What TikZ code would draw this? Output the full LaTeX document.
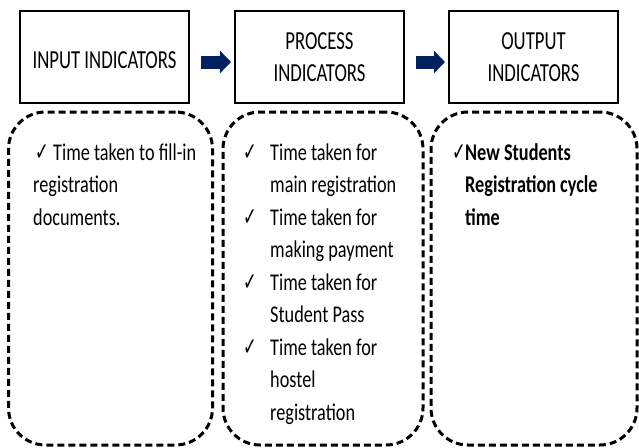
\documentclass[tikz,border=0pt]{standalone}
\usepackage{fontspec}
\setmainfont{Carlito}[FakeStretch=0.76]
\newfontfamily\headfont{Carlito}[FakeStretch=0.72]
\newfontfamily\tickfont{DejaVu Sans}[FakeStretch=0.65]
\usepackage{tikz}
\usetikzlibrary{arrows.meta,positioning}
\definecolor{navy}{RGB}{0,32,96}
\newcommand{\tick}{\makebox[10pt][l]{\tickfont\fontsize{25}{25}\selectfont ✓}}

\begin{document}
\begin{tikzpicture}[x=1pt, y=-1pt]
	\tikzstyle{every node} = [font=\fontsize{24}{32.5}\selectfont, inner sep=0pt]
	\tikzstyle{hdr} = [draw=black, line width=2pt, minimum width=169pt, minimum height=92pt, align=center, font=\headfont\fontsize{26}{32}\selectfont]
	\tikzstyle{dbox} = [draw=black, line width=3pt, dash pattern=on 7pt off 4pt, rounded corners=37pt, minimum width=204pt, minimum height=333pt]
	\tikzstyle{arr} = [draw=navy, line width=13pt, -{Triangle[length=11pt, width=22pt]}, shorten <=11pt, shorten >=3pt]
	\useasboundingbox (0, 0) rectangle (639, 447);

	% indicator headings
\node[hdr] (0) at (104.5, 57) {\raisebox{-2.6pt}[\height][0pt]{INPUT INDICATORS}};
\node[hdr] (1) at (319.5, 57) {PROCESS\\INDICATORS};
\node[hdr] (2) at (533.5, 57) {OUTPUT\\INDICATORS};

	% dashed lists
\node[dbox] (3) at (110.5, 278.5) {};
\node[dbox, minimum width=200pt] (4) at (323, 278.5) {};
\node[dbox, minimum width=206pt] (5) at (534, 278.5) {};

\node[anchor=base west] (6) at (33, 160) {\begin{tabular}[t]{@{}l@{}}
	\hspace{2pt}\tick\hspace{8pt}Time taken to fill-in\\
	registration\\
	documents.
\end{tabular}};
\node[anchor=base west] (7) at (243, 160) {\begin{tabular}[t]{@{}l@{\hspace{17pt}}l@{}}
	\tick & Time taken for\\
	      & main registration\\
	\tick & Time taken for\\
	      & making payment\\
	\tick & Time taken for\\
	      & Student Pass\\
	\tick & Time taken for\\
	      & hostel\\
	      & registration
\end{tabular}};
\node[anchor=base west, font=\fontsize{24}{32.5}\selectfont\bfseries] (8) at (452, 160) {\begin{tabular}[t]{@{}l@{\hspace{3pt}}l@{}}
	\tick & New Students\\
	      & Registration cycle\\
	      & time
\end{tabular}};

	\path[arr] ([yshift=-5pt]0.east) -- ([yshift=-5pt]1.west);
	\path[arr] ([yshift=-5pt]1.east) -- ([yshift=-5pt]2.west);
\end{tikzpicture}
\end{document}
